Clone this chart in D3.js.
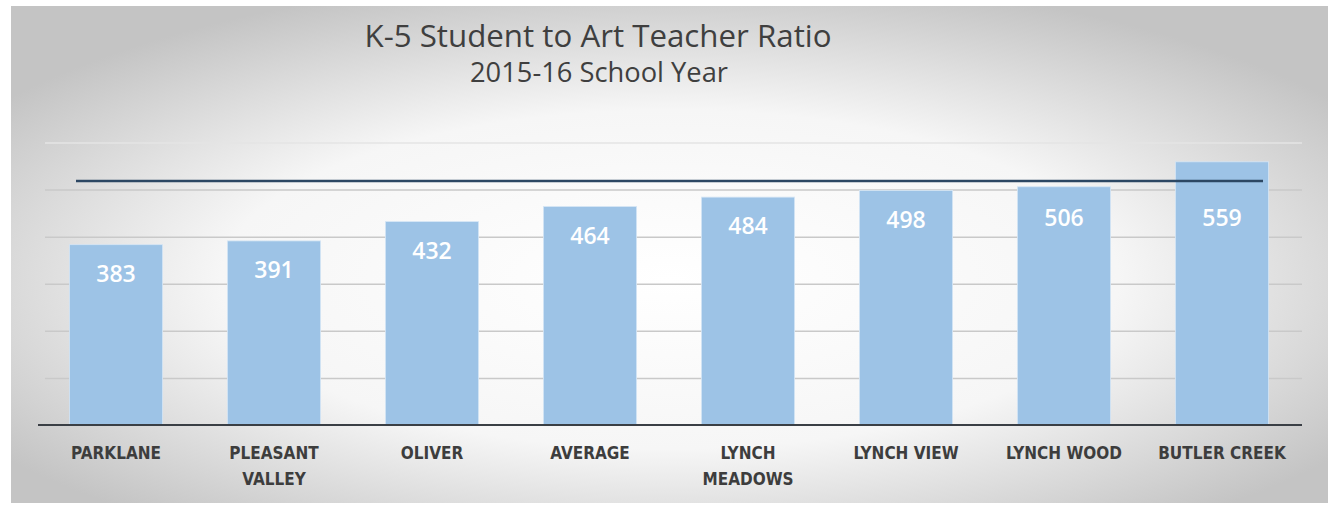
<!DOCTYPE html>
<html>
<head>
<meta charset="utf-8">
<script src="https://cdn.jsdelivr.net/npm/d3@7"></script>
<style>
  body { margin: 0; background: #fff; }
  svg { display: block; }
</style>
</head>
<body>
<svg id="chart"></svg>
<script>
// data
var schools = ['PARKLANE', 'PLEASANT VALLEY', 'OLIVER', 'AVERAGE', 'LYNCH MEADOWS', 'LYNCH VIEW', 'LYNCH WOOD', 'BUTLER CREEK'];
var ratios = [383, 391, 432, 464, 484, 498, 506, 559];
var gridTicks = [100, 200, 300, 400, 500, 600];
var targetRatio = 518;

var svgWidth = 1332, svgHeight = 505;
var svg = d3.select('#chart')
  .attr('width', svgWidth)
  .attr('height', svgHeight);

// background gradient
var defs = svg.append('defs');
var bg = defs.append('radialGradient')
  .attr('id', 'bg')
  .attr('cx', '0.5').attr('cy', '0.55').attr('r', '0.62');
bg.append('stop').attr('offset', '0').attr('stop-color', '#ffffff');
bg.append('stop').attr('offset', '0.55').attr('stop-color', '#f6f6f6');
bg.append('stop').attr('offset', '1').attr('stop-color', '#c4c4c4');

svg.append('rect')
  .attr('x', 11).attr('y', 6)
  .attr('width', 1317).attr('height', 497)
  .attr('fill', 'url(#bg)');

var x = d3.scaleBand()
  .domain(schools)
  .range([37, 1301])
  .paddingInner(0.41)
  .paddingOuter(0.205);

var y = d3.scaleLinear()
  .domain([0, 600])
  .range([425, 142.5]);

// gridlines
var grid = svg.append('g')
  .attr('transform', 'translate(45,0)')
  .call(d3.axisRight(y).tickValues(gridTicks).tickSize(1257).tickFormat(''));
grid.select('.domain').remove();
grid.selectAll('line')
  .attr('stroke', function(d) { return d === 600 ? '#e4e4e4' : '#c9c9c9'; })
  .attr('stroke-width', 1.5);

// bars
svg.selectAll('rect.bar')
  .data(ratios)
  .enter()
  .append('rect')
  .attr('class', 'bar')
  .attr('x', function(d, i) { return x(schools[i]); })
  .attr('y', function(d) { return y(d); })
  .attr('width', x.bandwidth())
  .attr('height', function(d) { return y(0) - y(d); })
  .attr('fill', '#9dc3e6')
  .attr('stroke', '#d6e6f5')
  .attr('stroke-width', 0.8);

// target line
svg.append('line')
  .attr('x1', 76).attr('x2', 1263)
  .attr('y1', y(targetRatio)).attr('y2', y(targetRatio))
  .attr('stroke', '#2c4763')
  .attr('stroke-width', 2.5);

// value labels
svg.selectAll('text.val')
  .data(ratios)
  .enter()
  .append('text')
  .attr('class', 'val')
  .attr('x', function(d, i) { return x(schools[i]) + x.bandwidth() / 2; })
  .attr('y', function(d) { return Math.max(y(d) + 37, y(targetRatio) + 45); })
  .attr('text-anchor', 'middle')
  .attr('fill', '#ffffff')
  .attr('font-family', '"Open Sans", sans-serif')
  .attr('font-weight', 600)
  .attr('font-size', 23)
  .text(function(d) { return d; });

// category axis
var xAxis = svg.append('g')
  .attr('transform', 'translate(0,425)')
  .call(d3.axisBottom(x).tickSize(0).tickPadding(0));
xAxis.select('.domain')
  .attr('d', 'M38,0H1302')
  .attr('stroke', '#3a3f45')
  .attr('stroke-width', 2);
xAxis.selectAll('text')
  .attr('font-family', '"Liberation Sans Narrow", "DejaVu Sans Condensed", sans-serif')
  .attr('font-weight', 'bold')
  .attr('font-size', 17)
  .attr('fill', '#3d3d3d')
  .attr('y', 34)
  .attr('dy', null)
  .each(function() {
    var t = d3.select(this);
    var words = t.text().split(' ');
    if (this.getComputedTextLength() > 135 && words.length > 1) {
      t.text(null);
      t.append('tspan').attr('x', 0).attr('dy', 0).text(words[0]);
      t.append('tspan').attr('x', 0).attr('dy', 26).text(words.slice(1).join(' '));
    }
  });

// titles
svg.append('text')
  .attr('x', 598).attr('y', 47)
  .attr('text-anchor', 'middle')
  .attr('font-family', '"Open Sans", sans-serif')
  .attr('font-size', 31)
  .attr('fill', '#3f3f3f')
  .attr('textLength', 467)
  .attr('lengthAdjust', 'spacingAndGlyphs')
  .text('K-5 Student to Art Teacher Ratio');

svg.append('text')
  .attr('x', 599).attr('y', 82)
  .attr('text-anchor', 'middle')
  .attr('font-family', '"Open Sans", sans-serif')
  .attr('font-size', 27)
  .attr('fill', '#3f3f3f')
  .attr('textLength', 258)
  .attr('lengthAdjust', 'spacingAndGlyphs')
  .text('2015-16 School Year');
</script>
</body>
</html>
